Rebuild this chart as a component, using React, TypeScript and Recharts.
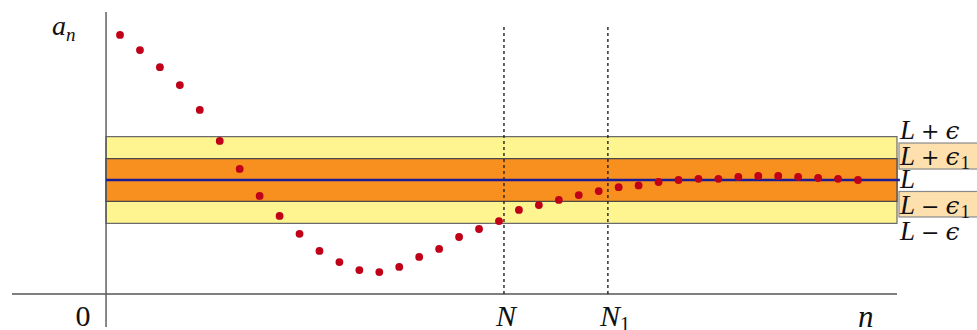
import React from 'react';
import { ComposedChart, Scatter, XAxis, YAxis, ReferenceArea, ReferenceLine } from 'recharts';

// sequence index and values a_n
const nValues = [1, 2, 3, 4, 5, 6, 7, 8, 9, 10, 11, 12, 13, 14, 15, 16, 17, 18, 19, 20, 21, 22, 23, 24, 25, 26, 27, 28, 29, 30, 31, 32, 33, 34, 35, 36, 37, 38];
const anValues = [9.09, 8.56, 7.96, 7.33, 6.46, 5.37, 4.39, 3.44, 2.74, 2.11, 1.51, 1.12, 0.84, 0.77, 0.95, 1.3, 1.58, 2.0, 2.28, 2.56, 2.95, 3.12, 3.3, 3.47, 3.61, 3.75, 3.81, 3.93, 4.0, 4.04, 4.04, 4.11, 4.14, 4.14, 4.11, 4.07, 4.04, 4.0];

// limit, epsilon bands and thresholds
const limit = 4;
const eps = 1.52;
const eps1 = 0.75;
const bigN = 20.25;
const bigN1 = 25.46;
const yAxisAt = 0.3;

const X_DOMAIN: [number, number] = [-4.415, 39.955];
const Y_DOMAIN: [number, number] = [-1.158, 9.895];

const data = nValues.map((n, i) => ({ n, a: anValues[i] }));

const SERIF = "'Liberation Serif', 'DejaVu Serif', serif";
const MATH = "'DejaVu Serif', 'Liberation Serif', serif";

const sideText = (dy: number, sign: string, eps: boolean, sub: boolean, box?: [number, number]) =>
  (props: any) => {
    const vb = props.viewBox;
    const x = vb.x + vb.width + 3;
    const y = vb.y;
    return (
      <g>
        {box && (
          <rect x={x - 1} y={y + box[0]} width={90} height={box[1] - box[0]} fill="#fde0ad" stroke="#8a8a8a" strokeWidth={1.2} />
        )}
        <text x={x} y={y + dy} fontFamily={SERIF} fontSize={27} fill="#111">
          <tspan fontStyle="italic">L</tspan>
          {sign && <tspan dx={6} fontFamily={MATH} fontSize={22}>{sign}</tspan>}
          {eps && <tspan dx={6} fontFamily={MATH} fontStyle="italic" fontSize={25}>ϵ</tspan>}
          {sub && <tspan dy={4} dx={1} fontSize={19}>1</tspan>}
        </text>
      </g>
    );
  };

const App: React.FC = () => {
  return (
    <div style={{ position: 'absolute', left: 0, top: 0, background: '#fff' }}>
      <ComposedChart width={977} height={330} data={data} margin={{ top: 12, right: 80, bottom: 3, left: 12 }}>
        <XAxis type="number" dataKey="n" domain={X_DOMAIN} allowDataOverflow hide />
        <YAxis type="number" dataKey="a" domain={Y_DOMAIN} allowDataOverflow hide />

        <ReferenceArea x1={yAxisAt} x2={X_DOMAIN[1]} y1={limit - eps} y2={limit + eps} fill="#fef490" fillOpacity={1} stroke="#6b6b6b" strokeWidth={1.2} />
        <ReferenceArea x1={yAxisAt} x2={X_DOMAIN[1]} y1={limit - eps1} y2={limit + eps1} fill="#f7901f" fillOpacity={1} stroke="#4a4a4a" strokeWidth={1.2} />

        {/* axes */}
        <ReferenceLine y={0} stroke="#555" strokeWidth={1.4}
          label={(p: any) => (
            <text x={p.viewBox.x + p.viewBox.width - 39} y={p.viewBox.y + 33} fontFamily={SERIF} fontStyle="italic" fontSize={31} fill="#111">n</text>
          )}
        />
        <ReferenceLine x={yAxisAt} stroke="#555" strokeWidth={1.4}
          label={(p: any) => (
            <g>
              <text x={p.viewBox.x - 23} y={p.viewBox.y + p.viewBox.height - 1} textAnchor="middle" fontFamily={SERIF} fontSize={30} fill="#111">0</text>
              <text x={p.viewBox.x - 54} y={p.viewBox.y + 23} fontFamily={SERIF} fontStyle="italic" fontSize={28} fill="#111">
                a<tspan dy={6} fontSize={19}>n</tspan>
              </text>
            </g>
          )}
        />

        {/* thresholds */}
        <ReferenceLine segment={[{ x: bigN, y: 0 }, { x: bigN, y: 9.37 }]} stroke="#222" strokeWidth={1.4} strokeDasharray="3 3"
          label={(p: any) => (
            <text x={p.viewBox.x + 2} y={p.viewBox.y + p.viewBox.height + 32} textAnchor="middle" fontFamily={SERIF} fontStyle="italic" fontSize={30} fill="#111">N</text>
          )}
        />
        <ReferenceLine segment={[{ x: bigN1, y: 0 }, { x: bigN1, y: 9.37 }]} stroke="#222" strokeWidth={1.4} strokeDasharray="3 3"
          label={(p: any) => (
            <text x={p.viewBox.x - 8} y={p.viewBox.y + p.viewBox.height + 32} fontFamily={SERIF} fontStyle="italic" fontSize={30} fill="#111">
              N<tspan dy={5} fontSize={20} fontStyle="normal">1</tspan>
            </text>
          )}
        />

        {/* limit line */}
        <ReferenceLine segment={[{ x: yAxisAt, y: limit }, { x: 40.1, y: limit }]} ifOverflow="visible" stroke="#1c1c96" strokeWidth={2.6} />

        {/* right-side labels */}
        <ReferenceLine y={limit + eps} stroke="none" label={sideText(2, '+', true, false)} />
        <ReferenceLine y={limit + eps1} stroke="none" label={sideText(6.4, '+', true, true, [-15.6, 10.4])} />
        <ReferenceLine y={limit} stroke="none" label={sideText(8, '', false, false)} />
        <ReferenceLine y={limit - eps1} stroke="none" label={sideText(12.6, '−', true, true, [-9.9, 15.6])} />
        <ReferenceLine y={limit - eps} stroke="none" label={sideText(17, '−', true, false)} />

        <Scatter
          dataKey="a"
          isAnimationActive={false}
          shape={(p: any) => <circle cx={p.cx} cy={p.cy} r={3.9} fill="#c00018" />}
        />
      </ComposedChart>
    </div>
  );
};

export default App;
